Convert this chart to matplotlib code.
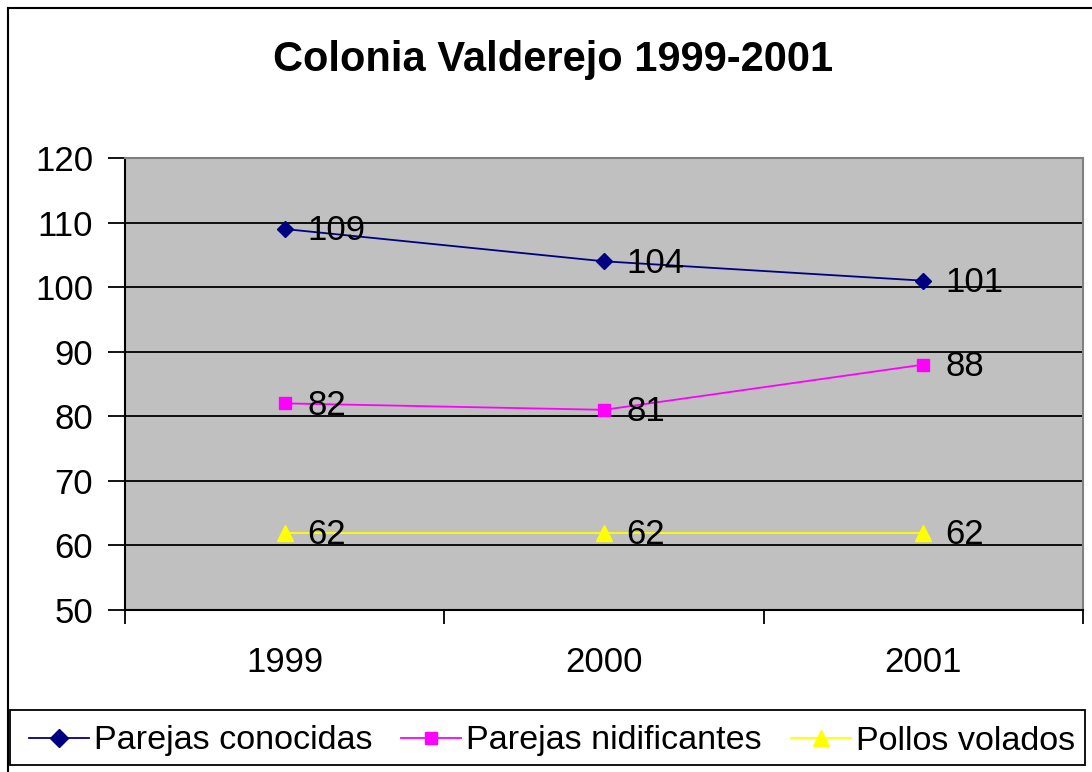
import matplotlib
matplotlib.use("Agg")
import matplotlib.pyplot as plt
from matplotlib.lines import Line2D
from matplotlib.patches import Rectangle

plt.rcParams['font.family'] = ['Liberation Sans', 'DejaVu Sans']

years = ["1999", "2000", "2001"]
conocidas = [109, 104, 101]
nidificantes = [82, 81, 88]
volados = [62, 62, 62]

fig = plt.figure(figsize=(10.92, 7.72), dpi=100)
ax = fig.add_axes([125 / 1092, 1 - 610 / 772, (1083 - 125) / 1092, (610 - 158) / 772])
ax.set_facecolor("#C0C0C0")

x = list(range(len(years)))
series = [
    (conocidas, "Parejas conocidas", "#000080", "D", 8),
    (nidificantes, "Parejas nidificantes", "#FF00FF", "s", 8.5),
    (volados, "Pollos volados", "#FFFF00", "^", 11),
]
for vals, name, col, mk, ms in series:
    ax.plot(x, vals, color=col, marker=mk, markersize=ms, linewidth=1.3, label=name, zorder=3)
    for xi, v in zip(x, vals):
        ax.text(xi + 0.07, v - 0.3, str(v), fontsize=25, va="center", ha="left", zorder=4)

ax.set_xlim(-0.5, 2.5)
ax.set_ylim(50, 120)
ax.set_yticks(range(50, 121, 10))
ax.yaxis.grid(True, color="black", linewidth=1.3)
ax.set_axisbelow(True)
ax.set_xticks([-0.5, 0.5, 1.5, 2.5])
ax.set_xticklabels([])
ax.set_xticks(x, minor=True)
ax.set_xticklabels(years, minor=True)
ax.tick_params(axis="x", which="major", length=10, width=1.3, direction="out")
ax.tick_params(axis="x", which="minor", length=0, pad=26, labelsize=25)
ax.tick_params(axis="y", length=12, width=1.3, direction="out", labelsize=25, pad=11)
for s in ["left", "bottom"]:
    ax.spines[s].set_color("black")
    ax.spines[s].set_linewidth(1.5)
for s in ["top", "right"]:
    ax.spines[s].set_color("#808080")
    ax.spines[s].set_linewidth(1.5)

fig.text(553 / 1092, 1 - 60 / 772, "Colonia Valderejo 1999-2001", fontsize=30,
         fontweight="bold", ha="center", va="center")

leg = fig.legend(loc="center", bbox_to_anchor=(552 / 1092, 1 - 741 / 772),
                 ncol=3, fontsize=24.6, frameon=False,
                 handlelength=1.75, handletextpad=0.15, columnspacing=0.85,
                 borderpad=0, borderaxespad=0, markerscale=1.1)

fig.add_artist(Rectangle((10 / 1092, 1 - 765 / 772), 1075 / 1092, 55 / 772,
                         transform=fig.transFigure, fill=False, edgecolor="black", linewidth=1.3))
fig.add_artist(Line2D([8 / 1092, 8 / 1092], [0, 1 - 8 / 772], color="black", linewidth=1.5))
fig.add_artist(Line2D([8 / 1092, 1], [1 - 8 / 772, 1 - 8 / 772], color="black", linewidth=1.5))

fig.savefig("out.png", dpi=100)
